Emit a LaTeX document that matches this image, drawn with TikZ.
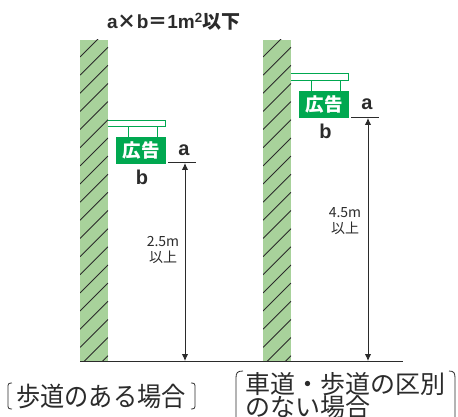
\documentclass[tikz,border=0pt]{standalone}
\usepackage{graphicx}
\usepackage{fontspec}
\setmainfont{Liberation Sans}
\newfontfamily\jp{Noto Sans CJK JP}
\usetikzlibrary{arrows.meta}
\definecolor{wallgreen}{HTML}{A8D29B}
\definecolor{signgreen}{HTML}{00A850}
\definecolor{inkgray}{HTML}{2B2B2B}
\tikzset{
  x=1pt,y=-1pt,
  wall/.style={fill=wallgreen,draw=none},
  hatchline/.style={draw=inkgray,line width=0.9pt},
  signbar/.style={draw=signgreen,fill=white,line width=1pt},
  hanger/.style={draw=signgreen,line width=1pt},
  signbox/.style={fill=signgreen,draw=none,inner sep=0pt,minimum width=50pt,minimum height=27pt,text=white,font=\jp\bfseries\fontsize{18.5}{18.5}\selectfont,anchor=north west},
  letter/.style={font=\bfseries\fontsize{20}{20}\selectfont,text=inkgray,inner sep=0pt},
  dim/.style={draw=inkgray,line width=1pt,{Latex[length=7pt,width=6.5pt]}-{Latex[length=7pt,width=6.5pt]}},
  rule/.style={draw=inkgray,line width=1pt},
  small/.style={font=\jp\fontsize{14}{16}\selectfont,text=inkgray,inner sep=0pt,align=center},
  caption/.style={font=\jp\fontsize{24.2}{24.2}\selectfont,text=inkgray,inner sep=0pt,anchor=west},
  caption2/.style={font=\jp\fontsize{25}{25}\selectfont,text=inkgray,inner sep=0pt,anchor=west},
  bracket/.style={draw=inkgray,line width=0.8pt},
}
\begin{document}
\begin{tikzpicture}
\useasboundingbox (0,0) rectangle (458,417);
% walls
\fill[wall] (80,40) rectangle (108,361);
\fill[wall] (263,40) rectangle (291,361);
\begin{scope}
\clip (80,40) rectangle (108,361);
\foreach \k in {0,...,18} \draw[hatchline] (80,{57+18.15*\k}) -- (108,{29+18.15*\k});
\end{scope}
\begin{scope}
\clip (263,40) rectangle (291,361);
\foreach \k in {0,...,18} \draw[hatchline] (263,{57+18.15*\k}) -- (291,{29+18.15*\k});
\end{scope}
% ground
\coordinate (gl) at (80,361);
\coordinate (gr) at (403,361);
\draw[rule] (gl) -- (gr);
% sign 1
\draw[signbar] (108,120.5) -- (165.5,120.5) -- (165.5,126.5) -- (108,126.5);
\node[signbox] (s1) at (116,137) {広告};
\draw[hanger] (128,127) -- (128,137);
\draw[hanger] (157.5,127) -- (157.5,137);
\node[letter] (a1) at (184,150) {a};
\node[letter] (b1) at (142,177) {b};
\coordinate (t1l) at (168,163); \coordinate (t1r) at (196,163);
\draw[rule] (t1l) -- (t1r);
\coordinate (t1) at (185,163); \coordinate (g1) at (185,361);
\draw[dim] (t1) -- (g1);
\node[small] (h1) at (163,249.5) {2.5m\\以上};
% sign 2
\draw[signbar] (291,74) -- (348.5,74) -- (348.5,80.5) -- (291,80.5);
\node[signbox] (s2) at (299,91) {広告};
\draw[hanger] (311,81) -- (311,91);
\draw[hanger] (340,81) -- (340,91);
\node[letter] (a2) at (367,104) {a};
\node[letter] (b2) at (325.5,131) {b};
\coordinate (t2l) at (351,118); \coordinate (t2r) at (379,118);
\draw[rule] (t2l) -- (t2r);
\coordinate (t2) at (368,118); \coordinate (g2) at (368,361);
\draw[dim] (t2) -- (g2);
\node[small] (h2) at (345,221.5) {4.5m\\以上};
% title
\node[font=\bfseries\fontsize{19}{19}\selectfont,text=inkgray,inner sep=0pt,anchor=west] (title) at (107,22) {a{\jp\bfseries ×}b{\jp\bfseries ＝}1m\textsuperscript{2}{\jp\bfseries 以下}};
% captions
\node[caption] (c1) at (16,396) {\scalebox{1}[1.1]{歩道のある場合}};
\draw[bracket] (12,383) .. controls (8,383) and (8,384) .. (8,388) -- (8,404) .. controls (8,408) and (8,409) .. (12,409);
\draw[bracket] (191,383) .. controls (195,383) and (195,384) .. (195,388) -- (195,404) .. controls (195,408) and (195,409) .. (191,409);
\node[caption2] (c2) at (245,384) {車道・歩道の区別};
\node[caption2] (c3) at (245,407) {のない場合};
\draw[bracket] (243,371) .. controls (237,371) and (236,373) .. (236,378) -- (236,417);
\draw[bracket] (449,371) .. controls (454,371) and (455,373) .. (455,378) -- (455,417);
\end{tikzpicture}
\end{document}
